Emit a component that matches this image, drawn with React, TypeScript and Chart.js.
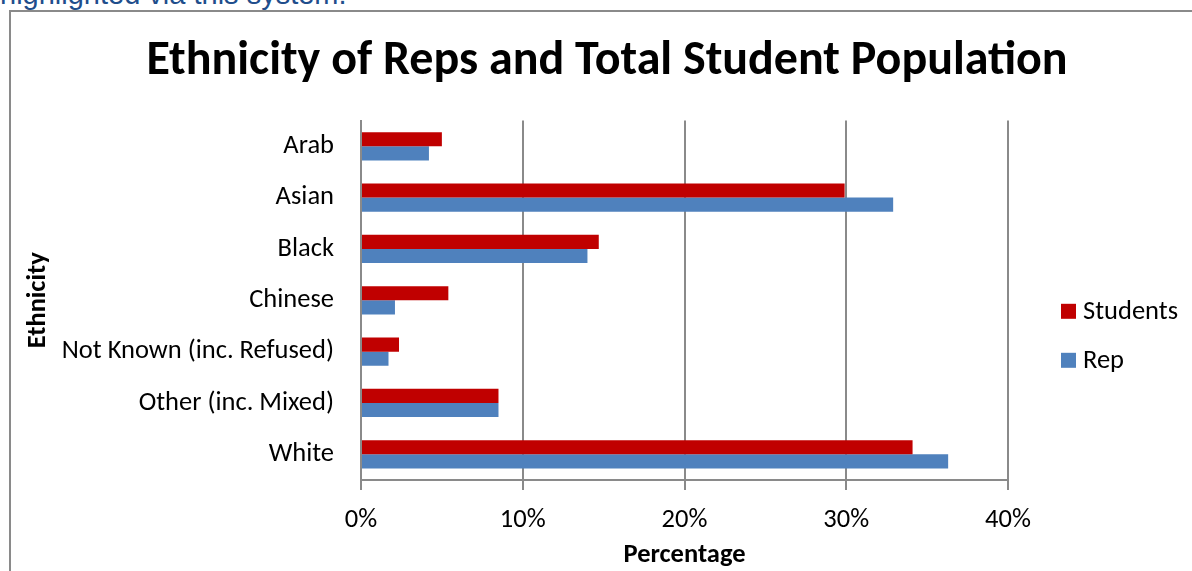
import React, { useEffect, useRef } from "react";
import { Chart, registerables } from "chart.js";

Chart.register(...registerables);

const categories = [
  "Arab",
  "Asian",
  "Black",
  "Chinese",
  "Not Known (inc. Refused)",
  "Other (inc. Mixed)",
  "White",
];
const studentsValues = [5.0, 29.9, 14.7, 5.4, 2.35, 8.5, 34.1];
const repValues = [4.2, 32.9, 14.0, 2.1, 1.7, 8.5, 36.3];
const xTicks = [0, 10, 20, 30, 40];

const FONT = "Carlito, Calibri, Lato, 'Open Sans', sans-serif";
const FS = 26.5;

const customLegend = {
  id: "customLegend",
  afterDraw(chart: any) {
    const ctx = chart.ctx;
    const ds = chart.data.datasets;
    const area = chart.chartArea;
    ctx.save();
    ctx.font = `${FS}px ${FONT}`;
    ctx.textBaseline = "middle";
    ctx.textAlign = "left";
    const x0 = area.right + 53;
    const mid = (area.top + area.bottom) / 2;
    const gap = 49;
    ds.forEach((d: any, i: number) => {
      const y = mid + 11 + i * gap;
      ctx.fillStyle = d.backgroundColor;
      ctx.fillRect(x0, y - 7.5, 15, 15);
      ctx.fillStyle = "#000";
      ctx.fillText(d.label, x0 + 22, y + 1);
    });
    ctx.restore();
  },
};

export default function App() {
  const ref = useRef<HTMLCanvasElement | null>(null);
  useEffect(() => {
    if (!ref.current) return;
    const chart = new Chart(ref.current, {
      type: "bar",
      data: {
        labels: categories,
        datasets: [
          {
            label: "Students",
            data: studentsValues,
            backgroundColor: "#C00000",
            categoryPercentage: 0.55,
            barPercentage: 1,
          },
          {
            label: "Rep",
            data: repValues,
            backgroundColor: "#4F81BD",
            categoryPercentage: 0.55,
            barPercentage: 1,
          },
        ],
      },
      options: {
        indexAxis: "y",
        animation: false,
        responsive: false,
        maintainAspectRatio: false,
        layout: { padding: { left: 22, right: 0, top: 0, bottom: 0 } },
        plugins: {
          legend: { display: false },
          tooltip: { enabled: false },
          title: {
            display: true,
            text: "Ethnicity of Reps and Total Student Population",
            color: "#000",
            font: { family: FONT, size: 48, weight: "bold" },
            padding: { top: 33, bottom: 30 },
          },
        },
        scales: {
          x: {
            min: 0,
            max: 40,
            afterFit: (s: any) => {
              s.height = 91;
            },
            afterBuildTicks: (s: any) => {
              s.ticks = xTicks.map((v) => ({ value: v }));
            },
            ticks: {
              color: "#000",
              font: { family: FONT, size: FS },
              padding: 14,
              callback: (v: any) => v + "%",
            },
            grid: {
              color: "#8a8a8a",
              lineWidth: 2,
              tickLength: 10,
              drawTicks: true,
            },
            border: { display: true, color: "#8a8a8a", width: 2 },
            title: {
              display: true,
              text: "Percentage",
              color: "#000",
              font: { family: FONT, size: FS, weight: "bold" },
              padding: { top: 0, bottom: 0 },
            },
          },
          y: {
            afterFit: (s: any) => {
              s.width = 339;
            },
            ticks: {
              color: "#000",
              font: { family: FONT, size: FS },
              padding: 27,
            },
            grid: { display: false, drawTicks: false },
            border: { display: true, color: "#8a8a8a", width: 2 },
            title: {
              display: true,
              text: "Ethnicity",
              color: "#000",
              font: { family: FONT, size: FS, weight: "bold" },
              padding: { top: 0, bottom: 0 },
            },
          },
          legendSpace: {
            type: "linear",
            position: "right",
            display: true,
            afterFit: (s: any) => {
              s.width = 184;
            },
            ticks: { display: false },
            grid: { display: false, drawTicks: false },
            border: { display: false },
          },
        },
      },
      plugins: [customLegend],
    });
    return () => chart.destroy();
  }, []);

  return (
    <div
      style={{
        position: "fixed",
        left: 0,
        top: 0,
        width: 1192,
        height: 571,
        overflow: "hidden",
        background: "#fff",
      }}
    >
      <div
        style={{
          position: "absolute",
          left: 0,
          top: -22,
          fontFamily: "'Liberation Sans', Arial, sans-serif",
          fontSize: 29,
          color: "#1F4E8C",
          whiteSpace: "nowrap",
        }}
      >
        highlighted via this system.
      </div>
      <div
        style={{
          position: "absolute",
          left: 9,
          top: 10,
          width: 1300,
          height: 700,
          border: "2px solid #8a8a8a",
          boxSizing: "border-box",
        }}
      />
      <canvas
        ref={ref}
        width={1192}
        height={571}
        style={{ position: "absolute", left: 0, top: 0 }}
      />
    </div>
  );
}
